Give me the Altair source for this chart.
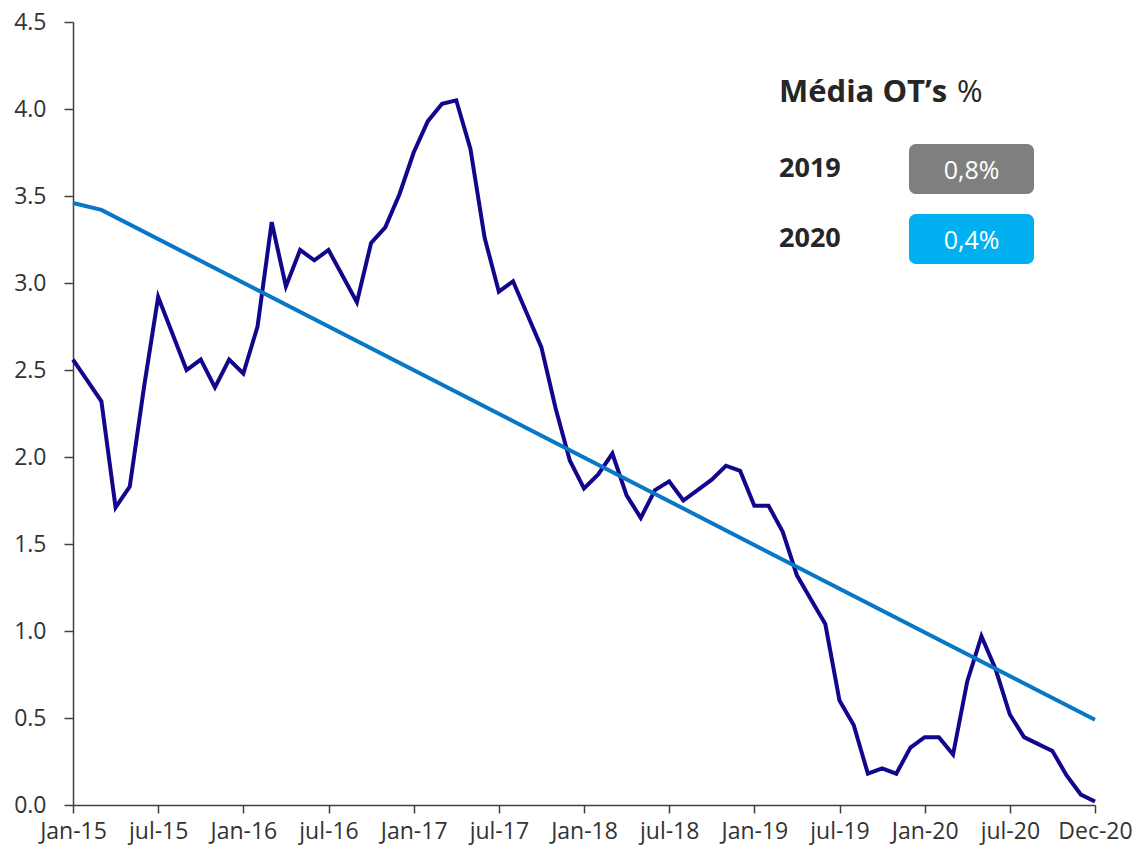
import altair as alt
import pandas as pd

# Monthly series (month index 0 = Jan-15)
ot_values = [
    2.56, 2.44, 2.32, 1.71, 1.83, 2.40, 2.92, 2.71, 2.50, 2.56,
    2.40, 2.56, 2.48, 2.75, 3.35, 2.98, 3.19, 3.13, 3.19, 3.04,
    2.89, 3.23, 3.32, 3.51, 3.75, 3.93, 4.03, 4.05, 3.77, 3.26,
    2.95, 3.01, 2.82, 2.63, 2.28, 1.98, 1.82, 1.90, 2.02, 1.78,
    1.65, 1.81, 1.86, 1.75, 1.81, 1.87, 1.95, 1.92, 1.72, 1.72,
    1.57, 1.32, 1.18, 1.04, 0.60, 0.46, 0.18, 0.21, 0.18, 0.33,
    0.39, 0.39, 0.29, 0.71, 0.97, 0.78, 0.52, 0.39, 0.35, 0.31,
    0.17, 0.06, 0.02,
]
month_index = list(range(len(ot_values)))

trend_index = [0, 2, 72]
trend_values = [3.46, 3.42, 0.49]

tick_positions = [0, 6, 12, 18, 24, 30, 36, 42, 48, 54, 60, 66, 72]
tick_labels = ["Jan-15", "jul-15", "Jan-16", "jul-16", "Jan-17", "jul-17",
               "Jan-18", "jul-18", "Jan-19", "jul-19", "Jan-20", "jul-20", "Dec-20"]

legend_years = ["2019", "2020"]
legend_values = ["0,8%", "0,4%"]
legend_colors = ["#7F7F7F", "#00B0F0"]

FONT = "Open Sans"
W, H = 1022, 783

df = pd.DataFrame({"m": month_index, "v": ot_values})
tdf = pd.DataFrame({"m": trend_index, "v": trend_values})

label_expr = "[" + ",".join("'%s'" % t for t in tick_labels) + "][round(datum.value/6)]"

xscale = alt.Scale(domain=[0, 72], nice=False, zero=False)
yscale = alt.Scale(domain=[0, 4.5], nice=False)

xaxis = alt.Axis(values=tick_positions, labelExpr=label_expr, title=None, grid=False,
                 domainColor="#404040", tickColor="#404040", tickSize=8, domainWidth=1.5,
                 tickWidth=1.5, labelFont=FONT, labelFontSize=23, labelColor="#333333",
                 labelPadding=7, labelOverlap=False, labelFlush=False)
yaxis = alt.Axis(values=[0, 0.5, 1, 1.5, 2, 2.5, 3, 3.5, 4, 4.5], format=".1f", title=None,
                 grid=False, domainColor="#404040", tickColor="#404040", tickSize=9,
                 domainWidth=1.5, tickWidth=1.5, labelFont=FONT, labelFontSize=23,
                 labelColor="#333333", labelPadding=18)

main = alt.Chart(df).mark_line(color="#12078C", strokeWidth=4, strokeJoin="miter").encode(
    x=alt.X("m:Q", scale=xscale, axis=xaxis),
    y=alt.Y("v:Q", scale=yscale, axis=yaxis),
)
trend = alt.Chart(tdf).mark_line(color="#0A76C6", strokeWidth=4).encode(
    x=alt.X("m:Q", scale=xscale),
    y=alt.Y("v:Q", scale=yscale),
)

one = pd.DataFrame({"a": [0]})
title_bold = alt.Chart(one).mark_text(text="Média OT’s", font=FONT, fontSize=31, fontWeight="bold",
                                      color="#262626", align="left", baseline="alphabetic").encode(
    x=alt.value(706), y=alt.value(80))
title_pct = alt.Chart(one).mark_text(text="%", font=FONT, fontSize=31, color="#262626",
                                     align="left", baseline="alphabetic").encode(
    x=alt.value(884), y=alt.value(80))

layers = [main, trend, title_bold, title_pct]
row_tops = [122, 192]
for yr, val, col, top in zip(legend_years, legend_values, legend_colors, row_tops):
    layers.append(alt.Chart(one).mark_rect(color=col, cornerRadius=7).encode(
        x=alt.value(836), x2=alt.value(961), y=alt.value(top), y2=alt.value(top + 50)))
    layers.append(alt.Chart(one).mark_text(text=yr, font=FONT, fontSize=27, fontWeight="bold",
                                           color="#262626", align="left", baseline="alphabetic").encode(
        x=alt.value(706), y=alt.value(top + 33)))
    layers.append(alt.Chart(one).mark_text(text=val, font=FONT, fontSize=25, color="white",
                                           align="center", baseline="alphabetic").encode(
        x=alt.value(898.5), y=alt.value(top + 35)))

chart = alt.layer(*layers).properties(
    width=W, height=H,
    autosize=alt.AutoSizeParams(type="none"),
    padding={"left": 65, "top": 14, "right": 37, "bottom": 42},
).configure_view(stroke=None)

chart.save("out.html", embed_options={"renderer": "svg", "actions": False})
